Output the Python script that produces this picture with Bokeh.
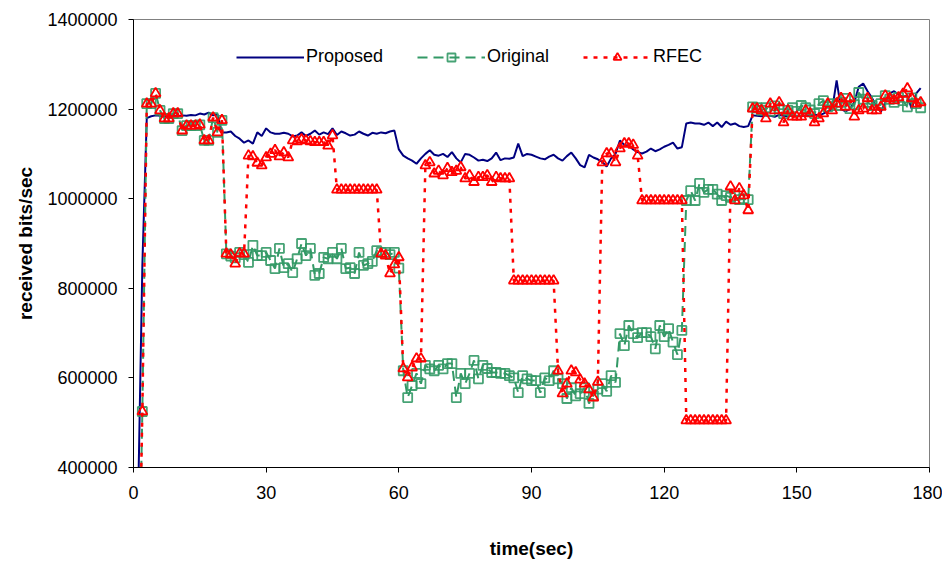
from bokeh.plotting import figure
from bokeh.models import Range1d, SingleIntervalTicker, BasicTickFormatter
from bokeh.embed import file_html
from bokeh.resources import INLINE

# time in seconds (one sample per second)
time = list(range(1, 179))

proposed = [
    300000, 850000, 1180000, 1184000, 1186000, 1185000, 1183000, 1186000, 1185000, 1184000,
    1186000, 1185000, 1187000, 1186000, 1190000, 1188000, 1192000, 1186000, 1188000, 1148000,
    1148000, 1150000, 1140000, 1134000, 1125000, 1130000, 1123000, 1148000, 1140000, 1157000,
    1148000, 1145000, 1145000, 1147000, 1145000, 1139000, 1141000, 1148000, 1140000, 1145000,
    1152000, 1143000, 1148000, 1144000, 1157000, 1142000, 1150000, 1146000, 1141000, 1143000,
    1150000, 1145000, 1141000, 1147000, 1145000, 1148000, 1146000, 1150000, 1152000, 1110000,
    1096000, 1090000, 1085000, 1078000, 1090000, 1100000, 1108000, 1098000, 1096000, 1100000,
    1093000, 1104000, 1090000, 1081000, 1100000, 1098000, 1092000, 1085000, 1087000, 1084000,
    1090000, 1103000, 1086000, 1090000, 1089000, 1092000, 1123000, 1095000, 1100000, 1098000,
    1094000, 1090000, 1088000, 1094000, 1098000, 1090000, 1085000, 1095000, 1103000, 1090000,
    1075000, 1070000, 1098000, 1092000, 1088000, 1082000, 1072000, 1090000, 1100000, 1130000,
    1120000, 1118000, 1110000, 1104000, 1101000, 1105000, 1112000, 1106000, 1110000, 1116000,
    1120000, 1125000, 1112000, 1115000, 1168000, 1170000, 1168000, 1168000, 1165000, 1170000,
    1162000, 1170000, 1160000, 1172000, 1165000, 1168000, 1162000, 1160000, 1162000, 1186000,
    1185000, 1184000, 1186000, 1185000, 1183000, 1187000, 1185000, 1184000, 1186000, 1185000,
    1184000, 1186000, 1185000, 1188000, 1186000, 1190000, 1195000, 1200000, 1264000, 1200000,
    1195000, 1200000, 1215000, 1250000, 1257000, 1240000, 1225000, 1205000, 1194000, 1215000,
    1235000, 1240000, 1232000, 1228000, 1230000, 1200000, 1235000, 1247000,
]

original = [
    0, 525000, 1212000, 1212000, 1235000, 1197000, 1179000, 1179000, 1190000, 1190000,
    1152000, 1163000, 1163000, 1163000, 1165000, 1130000, 1130000, 1181000, 1148000, 1175000,
    877000, 872000, 868000, 880000, 875000, 858000, 896000, 873000, 873000, 880000,
    862000, 844000, 889000, 846000, 855000, 835000, 866000, 900000, 873000, 889000,
    829000, 833000, 869000, 866000, 880000, 866000, 889000, 844000, 846000, 833000,
    880000, 851000, 855000, 860000, 884000, 880000, 880000, 875000, 880000, 845000,
    616000, 556000, 583000, 610000, 587000, 628000, 620000, 616000, 628000, 620000,
    632000, 632000, 556000, 610000, 587000, 610000, 639000, 598000, 628000, 621000,
    612000, 612000, 610000, 610000, 605000, 600000, 567000, 605000, 598000, 594000,
    594000, 567000, 600000, 594000, 616000, 598000, 587000, 554000, 578000, 560000,
    565000, 578000, 543000, 560000, 575000, 587000, 570000, 605000, 590000, 699000,
    672000, 717000, 699000, 690000, 701000, 701000, 692000, 665000, 717000, 692000,
    710000, 680000, 652000, 706000, 996000, 1018000, 996000, 1034000, 1014000, 1021000,
    1021000, 1010000, 996000, 1007000, 1003000, 1007000, 998000, 1000000, 998000, 1205000,
    1203000, 1197000, 1203000, 1195000, 1207000, 1201000, 1190000, 1197000, 1203000, 1195000,
    1208000, 1203000, 1198000, 1190000, 1212000, 1219000, 1205000, 1212000, 1208000, 1215000,
    1224000, 1201000, 1210000, 1237000, 1222000, 1215000, 1208000, 1219000, 1212000, 1230000,
    1222000, 1215000, 1226000, 1219000, 1205000, 1225000, 1212000, 1203000,
]

rfec = [
    0, 525000, 1212000, 1212000, 1235000, 1197000, 1179000, 1179000, 1190000, 1190000,
    1152000, 1163000, 1163000, 1163000, 1165000, 1130000, 1130000, 1181000, 1148000, 1175000,
    877000, 875000, 855000, 878000, 877000, 1096000, 1094000, 1080000, 1074000, 1092000,
    1100000, 1108000, 1094000, 1103000, 1092000, 1130000, 1128000, 1132000, 1130000, 1128000,
    1126000, 1126000, 1126000, 1118000, 1141000, 1020000, 1020000, 1020000, 1020000, 1020000,
    1020000, 1020000, 1020000, 1020000, 1020000, 877000, 873000, 833000, 853000, 869000,
    621000, 601000, 623000, 643000, 643000, 1074000, 1081000, 1056000, 1062000, 1052000,
    1068000, 1059000, 1062000, 1070000, 1045000, 1052000, 1037000, 1048000, 1048000, 1052000,
    1037000, 1048000, 1045000, 1045000, 1045000, 817000, 817000, 817000, 817000, 817000,
    817000, 817000, 817000, 817000, 817000, 616000, 565000, 587000, 616000, 612000,
    596000, 587000, 574000, 556000, 591000, 1081000, 1101000, 1101000, 1081000, 1112000,
    1123000, 1123000, 1120000, 1096000, 996000, 996000, 996000, 996000, 996000, 996000,
    996000, 996000, 996000, 996000, 505000, 505000, 505000, 505000, 505000, 505000,
    505000, 505000, 505000, 505000, 1027000, 996000, 1023000, 1007000, 974000, 1201000,
    1201000, 1197000, 1179000, 1212000, 1197000, 1215000, 1170000, 1197000, 1183000, 1183000,
    1183000, 1197000, 1190000, 1170000, 1179000, 1190000, 1212000, 1197000, 1212000, 1224000,
    1205000, 1224000, 1183000, 1197000, 1201000, 1224000, 1197000, 1197000, 1205000, 1230000,
    1224000, 1219000, 1226000, 1234000, 1246000, 1224000, 1212000, 1215000,
]

FONT = "Liberation Sans"
BLUE = "#000080"
GREEN = "#339966"
RED = "#ff0000"

p = figure(
    width=942, height=569,
    output_backend="svg", toolbar_location=None,
    x_range=Range1d(0, 180), y_range=Range1d(400000, 1400000),
    min_border_left=133, min_border_right=13,
    min_border_top=19, min_border_bottom=102,
    x_axis_label="time(sec)", y_axis_label="received bits/sec",
)
p.background_fill_color = "white"
p.border_fill_color = "white"
p.outline_line_color = "#808080"
p.outline_line_width = 1
p.xgrid.visible = False
p.ygrid.visible = False

p.line(time, proposed, line_color=BLUE, line_width=2, legend_label="Proposed")

p.line(time, original, line_color=GREEN, line_width=2, line_dash="10 6",
       legend_label="Original")
p.scatter(time, original, marker="square", size=9, line_color=GREEN,
          line_width=1.8, fill_alpha=0, line_alpha=0.9, legend_label="Original")

p.line(time, rfec, line_color=RED, line_width=2.5, line_dash="4 6",
       legend_label="RFEC")
p.scatter(time, rfec, marker="triangle", size=10, line_color=RED,
          line_width=1.8, fill_alpha=0, legend_label="RFEC")

for ax in (p.xaxis[0], p.yaxis[0]):
    ax.axis_line_color = "black"
    ax.axis_line_width = 1
    ax.major_tick_line_color = "black"
    ax.major_tick_out = 5
    ax.major_tick_in = 0
    ax.minor_tick_line_color = None
    ax.major_label_text_font = FONT
    ax.major_label_text_font_size = "18px"
    ax.major_label_text_color = "black"
    ax.axis_label_text_font = FONT
    ax.axis_label_text_font_size = "19px"
    ax.axis_label_text_font_style = "bold"
    ax.axis_label_text_color = "black"

p.xaxis.ticker = SingleIntervalTicker(interval=30, num_minor_ticks=0)
p.yaxis.ticker = SingleIntervalTicker(interval=200000, num_minor_ticks=0)
p.yaxis.formatter = BasicTickFormatter(use_scientific=False)
p.xaxis.major_label_standoff = 13
p.xaxis.axis_label_standoff = 36
p.yaxis.major_label_standoff = 11
p.yaxis.axis_label_standoff = 8

lg = p.legend[0]
lg.orientation = "horizontal"
lg.location = (103, 400)
lg.border_line_color = None
lg.background_fill_alpha = 0
lg.glyph_width = 68
lg.glyph_height = 20
lg.label_standoff = 2
lg.spacing = 34
lg.padding = 0
lg.margin = 0
lg.label_text_font = FONT
lg.label_text_font_size = "18px"
lg.label_text_color = "black"

open("out.html", "w").write(file_html(p, INLINE))
